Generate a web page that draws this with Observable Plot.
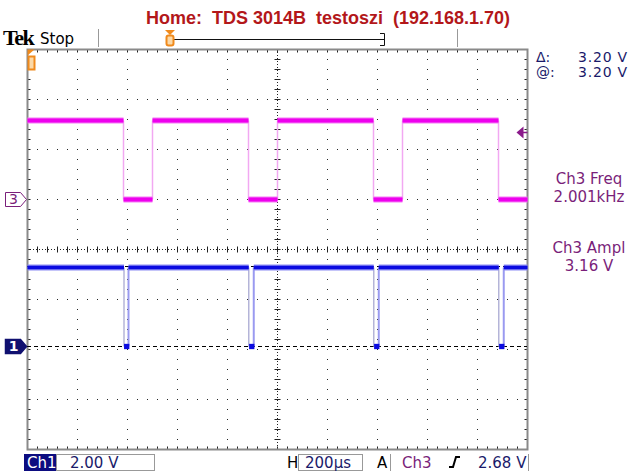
<!DOCTYPE html>
<html><head><meta charset="utf-8">
<script src="https://cdn.jsdelivr.net/npm/d3@7"></script>
<script src="https://cdn.jsdelivr.net/npm/@observablehq/plot@0.6"></script>
<style>
body{margin:0;background:#fff;}
#wrap{position:relative;width:635px;height:471px;overflow:hidden;}
#wrap svg{position:absolute;left:0;top:0;}
</style></head><body><div id="wrap"></div>
<script>
// ---- scope settings / data ----
const timePerDiv = 200;          // µs per division (H 200µs)
const voltsPerDiv = 2.00;        // V per division (Ch1 2.00 V)
const ch3Offset = 1.0;           // ch3 ground marker, divisions above centre
const ch1Offset = -1.94;         // ch1 ground marker, divisions
const ch3High = 3.16, ch3Low = 0.0;
const ch3FallTimes = [-616, -116, 384, 884];   // µs
const ch3RiseTimes = [-500, 0, 500, 1000];     // µs
const ch1High = 3.16, ch1Low = 0.0;
const ch1PulseStart = [-614, -115, 385, 885];  // µs
const ch1PulseEnd = [-596, -95, 405, 905];     // µs
const cursorVolts = [0, 3.20];
const trigLevel = 2.68;
const readoutLabels = ["Δ:", "@:"];
const readoutValues = ["3.20 V", "3.20 V"];
const measLabels = ["Ch3 Freq", "Ch3 Ampl"];
const measValues = ["2.001kHz", "3.16 V"];

const t0 = -5 * timePerDiv, t1 = 5 * timePerDiv;

function segments(falls, rises, hi, lo) {
  const ev = falls.map(t => ({t, lvl: lo})).concat(rises.map(t => ({t, lvl: hi}))).sort((a, b) => a.t - b.t);
  const segs = []; let cur = t0, lvl = hi;
  for (const e of ev) { if (e.t > cur) segs.push({a: cur, b: Math.min(e.t, t1), v: lvl}); cur = e.t; lvl = e.lvl; }
  if (cur < t1) segs.push({a: cur, b: t1, v: lvl});
  return segs;
}
const ch3Y = v => ch3Offset + v / voltsPerDiv;
const ch1Y = v => ch1Offset + v / voltsPerDiv;
const ch3Segs = segments(ch3FallTimes, ch3RiseTimes, ch3High, ch3Low);
const ch1Segs = segments(ch1PulseStart, ch1PulseEnd, ch1High, ch1Low);
const ch3Edges = ch3FallTimes.concat(ch3RiseTimes).filter(t => t < t1);
const ch1Blobs = ch1PulseStart.map((s, i) => s + (ch1PulseEnd[i] - s) * 0.6);

// graticule positions
const majorX = d3.range(-4, 5).filter(k => k !== 0).map(k => k * timePerDiv);
const majorY = d3.range(-3, 4).filter(k => k !== 0);
const minorX = d3.range(-25, 26).map(k => k * timePerDiv / 5);
const minorY = d3.range(-20, 21).map(k => k / 5);
const pxX = timePerDiv / 50, pxY = 1 / 50;

const arrowSym = {draw(c) { c.moveTo(0, 0); c.lineTo(-6, -7); c.lineTo(-21, -7); c.lineTo(-21, 7); c.lineTo(-6, 7); c.closePath(); }};
const trigSym = {draw(c) { c.moveTo(0, 0); c.lineTo(7, -6); c.lineTo(7, 6); c.closePath(); }};
const orangeTri = {draw(c) { c.moveTo(0, 0); c.lineTo(7, 0); c.lineTo(0, 6); c.closePath(); }};
const orangeBox = {draw(c) { c.moveTo(1, 7); c.lineTo(7, 7); c.lineTo(7, 20); c.lineTo(1, 20); c.closePath(); }};

const plot = Plot.plot({
  width: 635, height: 471,
  marginLeft: 27, marginRight: 108, marginTop: 49, marginBottom: 22,
  x: {domain: [t0, t1], axis: null},
  y: {domain: [-4, 4], axis: null},
  style: {background: "transparent", overflow: "visible"},
  marks: [
    Plot.ruleX(majorX, {stroke: "#222", strokeDasharray: "1,9", strokeWidth: 1}),
    Plot.ruleY(majorY, {stroke: "#222", strokeDasharray: "1,9", strokeWidth: 1}),
    Plot.ruleX([0], {stroke: "#222", strokeDasharray: "1,2"}),
    Plot.ruleY([0], {stroke: "#222", strokeDasharray: "1,2"}),
    Plot.link(minorX, {x1: d => d, x2: d => d, y1: -3 * pxY, y2: 3 * pxY, stroke: "#222"}),
    Plot.link(minorY, {y1: d => d, y2: d => d, x1: -3 * pxX, x2: 3 * pxX, stroke: "#222"}),
    Plot.link(minorX, {x1: d => d, x2: d => d, y1: 4, y2: 4 - 3 * pxY, stroke: "#222"}),
    Plot.link(minorX, {x1: d => d, x2: d => d, y1: -4, y2: -4 + 3 * pxY, stroke: "#222"}),
    Plot.link(minorY, {y1: d => d, y2: d => d, x1: t0, x2: t0 + 3 * pxX, stroke: "#222"}),
    Plot.link(minorY, {y1: d => d, y2: d => d, x1: t1, x2: t1 - 3 * pxX, stroke: "#222"}),
    Plot.frame({stroke: "#8a8a8a", strokeWidth: 2}),
    // cursors
    Plot.ruleY(cursorVolts, {y: v => ch1Y(v), stroke: "#000", strokeDasharray: "4,3"}),
    // Ch1 trace
    Plot.link(ch1PulseStart, {x1: d => d, x2: d => d, y1: ch1Y(ch1Low), y2: ch1Y(ch1High), stroke: "#b4b4d8", strokeWidth: 1.5}),
    Plot.link(ch1PulseEnd, {x1: d => d, x2: d => d, y1: ch1Y(ch1Low), y2: ch1Y(ch1High), stroke: "#9a9af0", strokeWidth: 2}),
    Plot.link(ch1Segs.filter(s => s.v === ch1High), {x1: "a", x2: "b", y1: d => ch1Y(d.v), y2: d => ch1Y(d.v), stroke: "#8c8cf4", strokeWidth: 6}),
    Plot.link(ch1Segs.filter(s => s.v === ch1High), {x1: "a", x2: "b", y1: d => ch1Y(d.v), y2: d => ch1Y(d.v), stroke: "#0a0ae0", strokeWidth: 3.5}),
    Plot.dot(ch1Blobs, {x: d => d, y: ch1Y(ch1Low), symbol: "square", r: 3, fill: "#0a0ae0"}),
    // Ch3 trace
    Plot.link(ch3Edges, {x1: d => d, x2: d => d, y1: ch3Y(ch3Low), y2: ch3Y(ch3High), stroke: "#f2a8f2", strokeWidth: 1.5}),
    Plot.link(ch3Segs, {x1: "a", x2: "b", y1: d => ch3Y(d.v), y2: d => ch3Y(d.v), stroke: "#f47af4", strokeWidth: 6}),
    Plot.link(ch3Segs, {x1: "a", x2: "b", y1: d => ch3Y(d.v), y2: d => ch3Y(d.v), stroke: "#ee00ee", strokeWidth: 4}),
    // markers
    Plot.dot([ch3Offset], {x: t0, y: d => d, symbol: arrowSym, fill: "#fff", stroke: "#7a1f7a", strokeWidth: 1, dx: -1}),
    Plot.text(["3"], {x: t0, y: ch3Offset, dx: -14, text: d => d, fill: "#7a1f7a", fontSize: 14, fontFamily: "DejaVu Sans"}),
    Plot.dot([ch1Offset], {x: t0, y: d => d, symbol: arrowSym, fill: "#101070", stroke: "#101070", dx: -1}),
    Plot.text(["1"], {x: t0, y: ch1Offset, dx: -14, text: d => d, fill: "#fff", fontSize: 14, fontWeight: "bold", fontFamily: "DejaVu Sans"}),
    Plot.dot([trigLevel], {x: t1, y: d => ch3Y(d), dx: -11, symbol: trigSym, fill: "#8b1a8b"}),
    Plot.link([trigLevel], {x1: t1 - 6 * pxX, x2: t1, y1: d => ch3Y(d), y2: d => ch3Y(d), stroke: "#8b1a8b", strokeWidth: 1.5}),
    Plot.dot([4], {x: t0, y: d => d, symbol: orangeTri, fill: "#f08a1c"}),
    Plot.dot([4], {x: t0, y: d => d, symbol: orangeBox, fill: "#fbd9a8", stroke: "#f08a1c", strokeWidth: 2})
  ]
});
const wrap = document.getElementById("wrap");
wrap.appendChild(plot);

// ---- overlay readouts ----
const ov = d3.create("svg").attr("width", 635).attr("height", 471).attr("font-family", "DejaVu Sans");
const T = (x, y, s, o = {}) => ov.append("text").attr("x", x).attr("y", y).attr("xml:space", "preserve")
  .attr("font-size", o.size || 15).attr("fill", o.fill || "#1a1a6a").attr("text-anchor", o.anchor || "start")
  .attr("font-weight", o.weight || "normal").attr("font-family", o.family || null)
  .attr("letter-spacing", o.ls || null).text(s);
T(328, 24, "Home:  TDS 3014B  testoszi  (192.168.1.70)", {anchor: "middle", size: 18, weight: "bold", fill: "#b3171a", family: "Liberation Sans"});
T(3, 45, "Tek", {size: 22, weight: "bold", fill: "#000", family: "Liberation Serif", ls: -1.5});
T(40, 44, "Stop", {size: 15, fill: "#000"});
// record bar
ov.append("line").attr("x1", 98.5).attr("x2", 98.5).attr("y1", 29).attr("y2", 47).attr("stroke", "#999");
ov.append("line").attr("x1", 457.5).attr("x2", 457.5).attr("y1", 29).attr("y2", 47).attr("stroke", "#999");
ov.append("line").attr("x1", 172).attr("x2", 384).attr("y1", 39.5).attr("y2", 39.5).attr("stroke", "#111");
ov.append("path").attr("d", "M380,33.5H384.5V45.5H380").attr("fill", "none").attr("stroke", "#111");
ov.append("path").attr("d", "M165,30H175L170,35Z").attr("fill", "#f08a1c");
ov.append("rect").attr("x", 166.5).attr("y", 35.5).attr("width", 7).attr("height", 10).attr("rx", 2).attr("fill", "#fbd9a8").attr("stroke", "#f08a1c").attr("stroke-width", 2);
// right readouts
readoutLabels.forEach((l, i) => { T(536, 62 + i * 15, l, {size: 14}); T(628, 62 + i * 15, readoutValues[i], {anchor: "end", size: 14, ls: 0.8}); });
measLabels.forEach((l, i) => {
  T(589, 184 + i * 69, l, {anchor: "middle", fill: "#7a1f7a", size: 15});
  T(589, 202 + i * 69, measValues[i], {anchor: "middle", fill: "#7a1f7a", size: 15});
});
// bottom bar
ov.append("rect").attr("x", 24).attr("y", 454).attr("width", 32).attr("height", 17).attr("fill", "#0c0c80");
T(27, 468, "Ch1", {fill: "#fff"});
ov.append("rect").attr("x", 56.5).attr("y", 454.5).attr("width", 98).attr("height", 16).attr("fill", "none").attr("stroke", "#999");
T(70, 468, "2.00 V");
T(287, 468, "H", {fill: "#000"});
ov.append("rect").attr("x", 298.5).attr("y", 454.5).attr("width", 64).attr("height", 16).attr("fill", "none").attr("stroke", "#999");
T(305, 468, "200µs");
T(377, 468, "A", {fill: "#000"});
ov.append("line").attr("x1", 390.5).attr("x2", 390.5).attr("y1", 454).attr("y2", 471).attr("stroke", "#999");
T(402, 468, "Ch3", {fill: "#7a1f7a"});
ov.append("path").attr("d", "M449,467H453L456,457H460").attr("fill", "none").attr("stroke", "#000").attr("stroke-width", 2);
T(478, 468, "2.68 V");
ov.append("line").attr("x1", 528.5).attr("x2", 528.5).attr("y1", 454).attr("y2", 471).attr("stroke", "#999");
wrap.appendChild(ov.node());
</script></body></html>
